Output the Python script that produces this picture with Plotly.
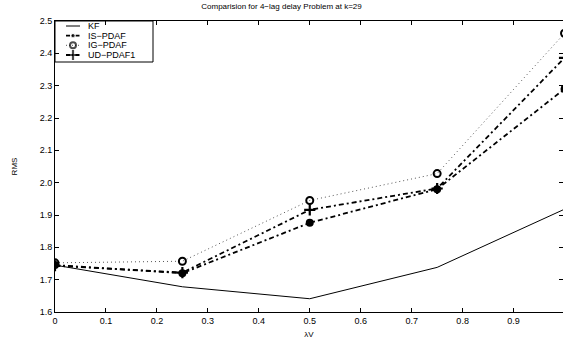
import plotly.graph_objects as go

lam = [0, 0.25, 0.5, 0.75, 1.0]
kf = [1.745, 1.678, 1.641, 1.738, 1.918]
is_pdaf = [1.745, 1.720, 1.876, 1.980, 2.290]
ig_pdaf = [1.752, 1.757, 1.945, 2.028, 2.462]
ud_pdaf1 = [1.743, 1.722, 1.916, 1.982, 2.386]

names = ["KF", "IS\u2212PDAF", "IG\u2212PDAF", "UD\u2212PDAF1"]

DASHDOT = "5px,3px,2px,3px"
styles = [
    dict(line=dict(color="black", width=1), mode="lines", marker=None),
    dict(line=dict(color="black", width=1.8, dash=DASHDOT), mode="lines+markers",
         marker=dict(symbol="circle", size=8, color="black")),
    dict(line=dict(color="#555555", width=1, dash="1px,3px"), mode="lines+markers",
         marker=dict(symbol="circle-open", size=7, color="black", line=dict(width=2, color="black"))),
    dict(line=dict(color="black", width=1.8, dash=DASHDOT), mode="lines+markers",
         marker=dict(symbol="cross-thin", size=8, color="black", line=dict(width=2.2, color="black"))),
]
series = [kf, is_pdaf, ig_pdaf, ud_pdaf1]

fig = go.Figure()
for nm, ys, st in zip(names, series, styles):
    kw = dict(x=lam, y=ys, name=nm, mode=st["mode"], line=st["line"], showlegend=False)
    if st["marker"] is not None:
        kw["marker"] = st["marker"]
    fig.add_trace(go.Scatter(**kw))

# compact MATLAB-style legend drawn on an overlay axis in pixel units
leg_y = [26, 35.7, 45.3, 55]
leg_marker_sizes = [0, 4.5, 6, 7]
for nm, st, yy, ms in zip(names, styles, leg_y, leg_marker_sizes):
    line = dict(st["line"])
    if "dash" in line:
        line["dash"] = "4px,2px,1.5px,2px" if line["dash"] == DASHDOT else "1px,2px"
    kw = dict(x=[66, 73, 80], y=[yy, yy, yy], xaxis="x2", yaxis="y2", showlegend=False,
              hoverinfo="skip", line=line, mode=st["mode"])
    if st["marker"] is not None:
        mk = dict(st["marker"])
        mk["size"] = [0, ms, 0]
        kw["marker"] = mk
    fig.add_trace(go.Scatter(**kw))
    fig.add_annotation(x=86, y=yy, xref="x2", yref="y2", text=nm, showarrow=False,
                       xanchor="left", yanchor="middle", font=dict(size=9, color="black"))

fig.add_shape(type="rect", x0=55, x1=153, y0=21, y1=62, xref="x2", yref="y2",
              line=dict(color="black", width=1), fillcolor="white", layer="below")

axis_common = dict(showgrid=False, zeroline=False, showline=True, linecolor="black",
                   linewidth=1, mirror="ticks", ticks="inside", ticklen=4,
                   tickcolor="black", tickfont=dict(size=9, color="black"))

fig.update_layout(
    width=563, height=344,
    margin=dict(l=55, r=0, t=21, b=32),
    paper_bgcolor="white", plot_bgcolor="white",
    font=dict(family="Liberation Sans, Arial, sans-serif", color="black", size=9),
    title=dict(text="Comparision for 4\u2212lag delay Problem at k=29",
               x=0.5, xanchor="center", y=0.983, yanchor="middle",
               font=dict(size=8)),
    xaxis=dict(range=[0, 0.997], tickvals=[0, 0.1, 0.2, 0.3, 0.4, 0.5, 0.6, 0.7, 0.8, 0.9],
               ticktext=["0", "0.1", "0.2", "0.3", "0.4", "0.5", "0.6", "0.7", "0.8", "0.9"],
               title=dict(text="\u03bbV", font=dict(size=8), standoff=6), **axis_common),
    yaxis=dict(range=[1.6, 2.5], dtick=0.1, tickformat=".1f",
               title=dict(text="RMS", font=dict(size=8), standoff=20), **axis_common),
    xaxis2=dict(overlaying="x", range=[55, 563], visible=False, fixedrange=True),
    yaxis2=dict(overlaying="y", range=[312, 21], visible=False, fixedrange=True),
    showlegend=False,
)

fig.write_html("out.html")
